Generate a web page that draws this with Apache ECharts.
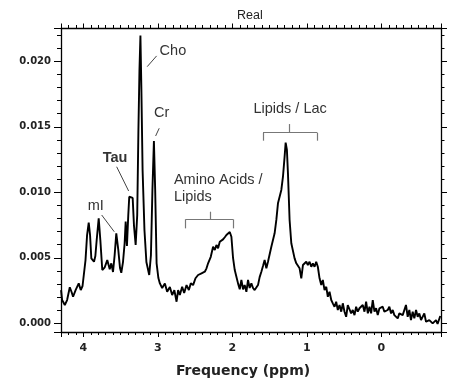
<!DOCTYPE html>
<html><head><meta charset="utf-8">
<script src="https://cdn.jsdelivr.net/npm/echarts@6/dist/echarts.min.js"></script>
<style>html,body{margin:0;padding:0;background:#fff}#c{width:450px;height:385px}</style>
</head><body><div id="c"></div>
<script>
// Chemical shift (ppm) and real-part signal
const ppm = [4.299,4.285,4.249,4.218,4.182,4.158,4.138,4.104,4.062,4.035,4.011,3.995,3.971,3.950,3.928,3.910,3.893,3.870,3.857,3.839,3.821,3.794,3.772,3.746,3.713,3.679,3.646,3.625,3.602,3.580,3.558,3.531,3.508,3.491,3.468,3.446,3.432,3.415,3.397,3.384,3.361,3.338,3.321,3.298,3.277,3.261,3.247,3.234,3.221,3.205,3.180,3.154,3.116,3.093,3.073,3.053,3.036,3.017,2.993,2.973,2.942,2.906,2.875,2.839,2.808,2.779,2.749,2.728,2.705,2.674,2.647,2.615,2.584,2.558,2.527,2.495,2.460,2.414,2.370,2.347,2.326,2.290,2.259,2.236,2.214,2.192,2.169,2.147,2.125,2.102,2.080,2.058,2.035,2.013,1.991,1.968,1.946,1.924,1.901,1.879,1.857,1.835,1.812,1.790,1.768,1.745,1.723,1.701,1.678,1.656,1.634,1.611,1.589,1.567,1.544,1.522,1.500,1.477,1.455,1.433,1.410,1.388,1.366,1.343,1.321,1.299,1.285,1.268,1.254,1.232,1.209,1.187,1.165,1.142,1.121,1.098,1.075,1.053,1.030,1.008,0.987,0.964,0.941,0.920,0.897,0.875,0.853,0.830,0.807,0.786,0.763,0.740,0.719,0.696,0.673,0.652,0.629,0.607,0.585,0.562,0.539,0.518,0.495,0.473,0.451,0.428,0.406,0.384,0.361,0.339,0.317,0.294,0.272,0.250,0.227,0.205,0.182,0.160,0.138,0.116,0.093,0.071,0.049,0.026,0.004,-0.018,-0.040,-0.063,-0.085,-0.107,-0.130,-0.152,-0.174,-0.197,-0.219,-0.241,-0.263,-0.286,-0.308,-0.330,-0.353,-0.375,-0.397,-0.420,-0.442,-0.465,-0.487,-0.509,-0.532,-0.554,-0.576,-0.599,-0.621,-0.643,-0.666,-0.688,-0.710,-0.733,-0.754,-0.777,-0.790];
const signal = [0.00254,0.00178,0.0014,0.00178,0.00275,0.00239,0.00203,0.00254,0.00305,0.00254,0.00285,0.003,0.00483,0.00674,0.00768,0.00674,0.00496,0.00498,0.0047,0.00514,0.00636,0.00802,0.00636,0.00407,0.00428,0.00483,0.00412,0.00458,0.00392,0.00521,0.00687,0.0056,0.00422,0.00386,0.00468,0.00611,0.00776,0.0059,0.00827,0.00966,0.00966,0.00957,0.0075,0.00598,0.00827,0.01476,0.01934,0.02196,0.01781,0.0117,0.00712,0.00468,0.00369,0.00521,0.01018,0.01392,0.01018,0.00458,0.00346,0.00305,0.0027,0.00305,0.00241,0.00277,0.00216,0.00254,0.00165,0.00254,0.00216,0.00279,0.00231,0.00292,0.00254,0.00305,0.00292,0.00344,0.00369,0.00382,0.00394,0.0042,0.00458,0.00508,0.00585,0.0056,0.00598,0.00573,0.00623,0.00636,0.00641,0.00657,0.00674,0.00687,0.00697,0.00661,0.00499,0.00407,0.00356,0.00305,0.0026,0.00331,0.0026,0.00292,0.00241,0.00331,0.0027,0.00305,0.0027,0.00254,0.00249,0.00292,0.00353,0.00394,0.00437,0.00483,0.0042,0.0047,0.00458,0.00585,0.00598,0.00687,0.00789,0.00916,0.00928,0.01018,0.01119,0.01272,0.01379,0.01323,0.01145,0.00789,0.00611,0.00598,0.00496,0.00458,0.0047,0.0042,0.00344,0.00445,0.00432,0.0047,0.00445,0.0047,0.00432,0.00458,0.00432,0.0047,0.00432,0.00344,0.00292,0.00331,0.00254,0.00279,0.00203,0.00241,0.00178,0.00153,0.00127,0.00165,0.00102,0.0014,0.00089,0.00153,0.00089,0.0005,0.0014,0.00153,0.00076,0.00102,0.00063,0.00127,0.00089,0.00115,0.00102,0.0014,0.00089,0.00165,0.00076,0.00127,0.00076,0.00178,0.00089,0.00115,0.00063,0.00115,0.00102,0.00127,0.00089,0.00076,0.00102,0.00127,0.00076,0.00102,0.00063,0.0005,0.00038,0.00076,0.00089,0.00063,0.0005,0.0014,0.0005,0.00102,0.00025,0.00089,0.00038,0.00102,0.0005,0.00076,0.00025,0.00038,0.00076,0.00012,0,0.00025,0.00012,0,-0.00013,0.00025,-0.00005,-0.00005,0.00056];
const xTickLabels = ['4','3','2','1','0'];
const yTickLabels = ['0.000','0.005','0.010','0.015','0.020'];
const chartTitle = 'Real';
const xName = 'Frequency (ppm)';

const near = (v, step) => Math.abs(v / step - Math.round(v / step)) < 1e-6;
const annoFont = 'Liberation Sans';
const annoColor = '#333';
const leader = { color: '#444', width: 1, type: 'solid' };
const bracket = { color: '#777', width: 1.2, type: 'solid' };
const seg = (a, b, style) => [{ coord: a, lineStyle: style }, { coord: b }];
const txt = (c, text, extra) => Object.assign({
  coord: c, symbol: 'circle', symbolSize: 0.1, itemStyle: { color: 'rgba(0,0,0,0)' },
  label: Object.assign({ show: true, position: 'inside', formatter: text,
    fontFamily: annoFont, fontSize: 14.5, color: annoColor }, extra || {})
}, {});

const chart = echarts.init(document.getElementById('c'), null, { renderer: 'canvas' });
const xCommon = {
  type: 'value', inverse: true, min: -0.8, max: 4.3, splitNumber: 5,
  splitLine: { show: false }, minorSplitLine: { show: false },
  axisLine: { show: true, onZero: false, lineStyle: { color: '#000', width: 1.3 } }
};
const yCommon = {
  type: 'value', min: -0.00066, max: 0.02254, splitNumber: 5,
  splitLine: { show: false }, minorSplitLine: { show: false },
  axisLine: { show: true, onZero: false, lineStyle: { color: '#000', width: 1.3 } }
};
chart.setOption({
  animation: false,
  backgroundColor: '#fff',
  title: { text: chartTitle, left: 232, top: 4,
    textStyle: { fontFamily: 'Liberation Sans', fontSize: 12.5, fontWeight: 'normal', color: '#222' } },
  grid: { left: 61, right: 9, top: 28, bottom: 53 },
  xAxis: [
    Object.assign({}, xCommon, {
      position: 'bottom',
      axisTick: { show: true, inside: false, length: 5, lineStyle: { color: '#000', width: 1 } },
      minorTick: { show: true, splitNumber: 10, length: 3, lineStyle: { color: '#000', width: 1 } },
      axisLabel: { show: true, margin: 11, fontFamily: 'DejaVu Sans', fontWeight: 'bold', fontSize: 11, color: '#222',
        formatter: v => near(v, 1) && xTickLabels.includes(String(Math.round(v))) ? String(Math.round(v)) : '' },
      name: xName, nameLocation: 'middle', nameGap: 32,
      nameTextStyle: { fontFamily: 'DejaVu Sans', fontWeight: 'bold', fontSize: 14, color: '#222', padding: [0, 16, 0, 0] }
    }),
    Object.assign({}, xCommon, {
      position: 'top',
      axisTick: { show: true, inside: false, length: 4.5, lineStyle: { color: '#000', width: 1 } },
      minorTick: { show: true, splitNumber: 10, length: 3, lineStyle: { color: '#000', width: 1 } },
      axisLabel: { show: false }
    })
  ],
  yAxis: [
    Object.assign({}, yCommon, {
      position: 'left',
      axisTick: { show: true, inside: false, length: 7, lineStyle: { color: '#000', width: 1 } },
      minorTick: { show: true, splitNumber: 5, length: 4, lineStyle: { color: '#000', width: 1 } },
      axisLabel: { show: true, margin: 10, fontFamily: 'DejaVu Sans', fontWeight: 'bold', fontSize: 10, color: '#222',
        formatter: v => { if (!near(v, 0.005)) return ''; const s = (Math.abs(v) < 1e-9 ? 0 : v).toFixed(3); return yTickLabels.includes(s) ? s : ''; } }
    }),
    Object.assign({}, yCommon, {
      position: 'right',
      axisTick: { show: true, inside: false, length: 6, lineStyle: { color: '#000', width: 1 } },
      minorTick: { show: true, splitNumber: 5, length: 3.5, lineStyle: { color: '#000', width: 1 } },
      axisLabel: { show: false }
    })
  ],
  series: [{
    type: 'line', xAxisIndex: 0, yAxisIndex: 0,
    data: ppm.map((p, i) => [p, signal[i]]),
    showSymbol: false, symbol: 'none', smooth: false, clip: true,
    lineStyle: { color: '#000', width: 1.9 },
    emphasis: { disabled: true },
    markLine: {
      silent: true, symbol: ['none', 'none'], label: { show: false }, emphasis: { disabled: true },
      data: [
        seg([3.143, 0.01959], [3.017, 0.02041], leader),
        seg([3.030, 0.0143], [2.982, 0.01489], leader),
        seg([3.553, 0.01195], [3.392, 0.0101], leader),
        seg([3.754, 0.00827], [3.585, 0.00699], leader),
        seg([2.629, 0.00725], [2.629, 0.00794], bracket),
        seg([2.629, 0.00794], [1.991, 0.00794], bracket),
        seg([1.991, 0.00794], [1.991, 0.00725], bracket),
        seg([2.303, 0.00794], [2.303, 0.00852], bracket),
        seg([1.589, 0.01394], [1.589, 0.01455], bracket),
        seg([1.589, 0.01455], [0.861, 0.01455], bracket),
        seg([0.861, 0.01455], [0.861, 0.01394], bracket),
        seg([1.241, 0.01455], [1.241, 0.01521], bracket)
      ]
    },
    markPoint: {
      silent: true, animation: false,
      data: [
        txt([2.798, 0.02081], 'Cho'),
        txt([2.950, 0.01608], 'Cr'),
        txt([3.575, 0.0126], 'Tau', { fontWeight: 'bold' }),
        txt([3.834, 0.00895], 'mI'),
        txt([2.785, 0.0103], 'Amino Acids /\nLipids', { position: 'right', distance: 0, align: 'left', lineHeight: 17 }),
        txt([1.225, 0.01634], 'Lipids / Lac')
      ]
    }
  }]
});
</script></body></html>
